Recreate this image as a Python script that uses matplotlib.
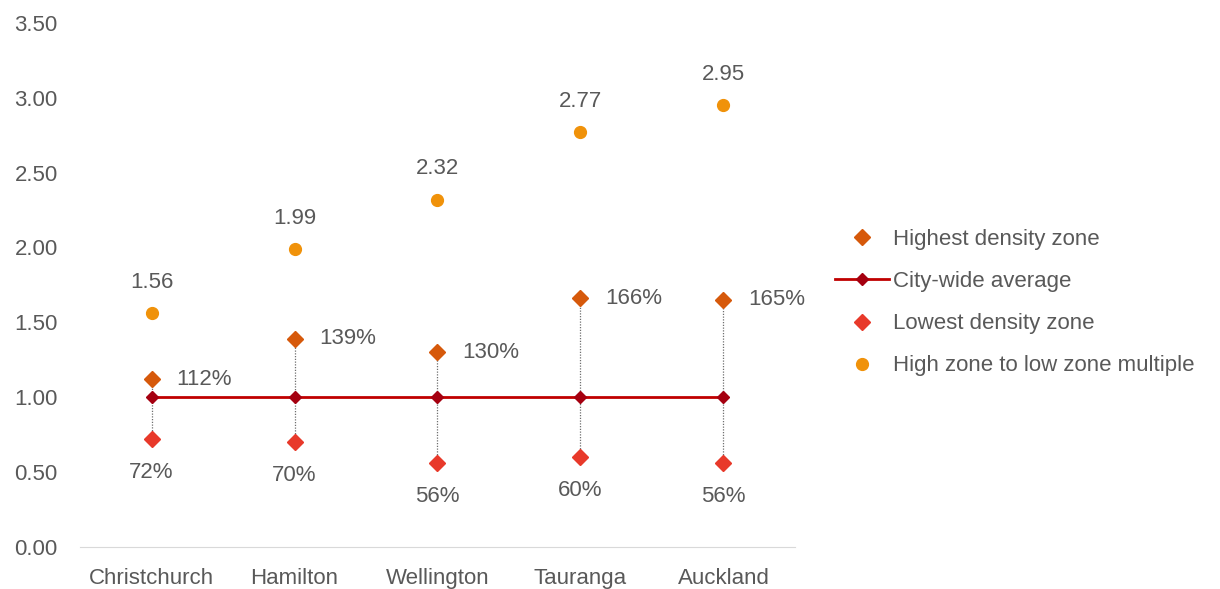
import matplotlib
matplotlib.use('Agg')
import matplotlib.pyplot as plt

plt.rcParams['font.family'] = ['Liberation Sans', 'DejaVu Sans']

cities = ['Christchurch', 'Hamilton', 'Wellington', 'Tauranga', 'Auckland']
highest = [1.12, 1.39, 1.30, 1.66, 1.65]
average = [1.0, 1.0, 1.0, 1.0, 1.0]
lowest = [0.72, 0.70, 0.56, 0.60, 0.56]
multiple = [1.56, 1.99, 2.32, 2.77, 2.95]
yticks = [0, 0.5, 1.0, 1.5, 2.0, 2.5, 3.0, 3.5]

grey = '#595959'
fs = 16
x = list(range(len(cities)))

fig = plt.figure(figsize=(12.2, 5.89), dpi=100)
ax = fig.add_axes([0.0656, 0.0713, 0.586, 0.89])

# drop lines between low and high
for i in x:
    ax.plot([i, i], [lowest[i], highest[i]], color='#6f6f6f', lw=0.9, ls=(0, (1, 1.2)), zorder=1)

ax.plot(x, highest, ls='none', marker='D', ms=8, color='#D6590B', label='Highest density zone', zorder=3)
ax.plot(x, average, color='#C00000', lw=2, marker='D', ms=6.5, mfc='#A50010', mec='#A50010', label='City-wide average', zorder=2)
ax.plot(x, lowest, ls='none', marker='D', ms=8, color='#E8392A', label='Lowest density zone', zorder=3)
ax.plot(x, multiple, ls='none', marker='o', ms=8.5, color='#F0920A', label='High zone to low zone multiple', zorder=3)

for i in x:
    ax.annotate('%d%%' % round(highest[i] * 100), (i, highest[i]), xytext=(18, 0), textcoords='offset points',
                ha='left', va='center', fontsize=fs, color=grey)
    ax.annotate('%d%%' % round(lowest[i] * 100), (i, lowest[i]), xytext=(0, -24), textcoords='offset points',
                ha='center', va='center', fontsize=fs, color=grey)
    ax.annotate('%.2f' % multiple[i], (i, multiple[i]), xytext=(0, 22), textcoords='offset points',
                ha='center', va='center', fontsize=fs, color=grey)

ax.set_xlim(-0.5, 4.5)
ax.set_ylim(0, 3.5)
ax.set_xticks(x)
ax.set_xticklabels(cities)
ax.set_yticks(yticks)
ax.set_yticklabels(['%.2f' % t for t in yticks])
ax.tick_params(length=0, labelsize=fs, colors=grey)
ax.tick_params(axis='x', pad=15)
ax.tick_params(axis='y', pad=16)
for s in ['top', 'right', 'left']:
    ax.spines[s].set_visible(False)
ax.spines['bottom'].set_color('#d9d9d9')

leg = fig.legend(loc='center left', bbox_to_anchor=(0.668, 0.486), frameon=False, fontsize=fs,
                 labelspacing=0.95, handlelength=2.45, handletextpad=0.15)
for t in leg.get_texts():
    t.set_color(grey)

plt.savefig('out.png', dpi=100)
